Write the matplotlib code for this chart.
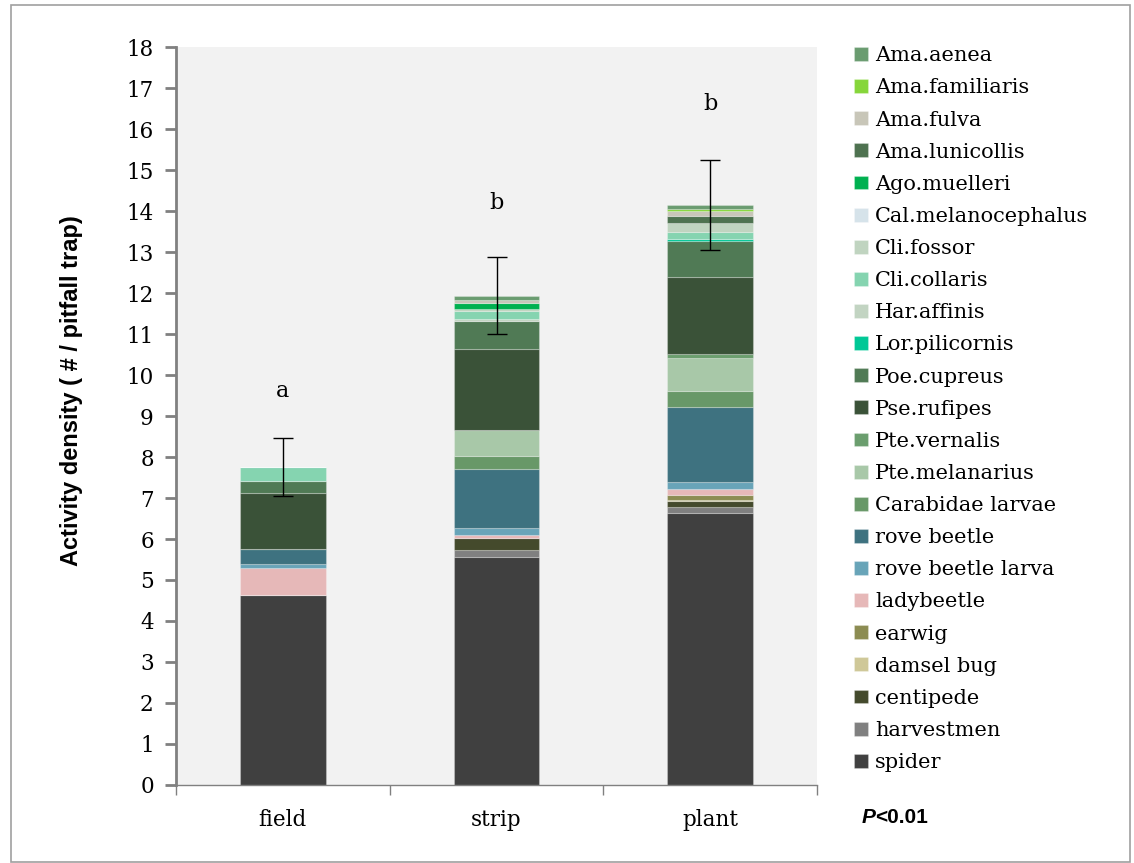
import matplotlib as mpl
import matplotlib.pyplot as plt
from matplotlib.patches import Rectangle

mpl.rcParams['font.family'] = 'DejaVu Serif'

sites = ['field', 'strip', 'plant']

# stacked from the bottom up
taxa = ['spider', 'harvestmen', 'centipede', 'damsel bug', 'earwig', 'ladybeetle',
        'rove beetle larva', 'rove beetle', 'Carabidae larvae', 'Pte.melanarius',
        'Pte.vernalis', 'Pse.rufipes', 'Poe.cupreus', 'Lor.pilicornis', 'Har.affinis',
        'Cli.collaris', 'Cli.fossor', 'Cal.melanocephalus', 'Ago.muelleri',
        'Ama.lunicollis', 'Ama.fulva', 'Ama.familiaris', 'Ama.aenea']

colors = ['#404040', '#808080', '#444a2c', '#cfc898', '#8c8c52', '#e6b8b8',
          '#68a4b8', '#3e7280', '#689868', '#a8c8a8',
          '#6b9e6e', '#3a5238', '#507a55', '#00c896', '#c2d4c2',
          '#85d4b0', '#c0d4c0', '#d6e3ea', '#00b050',
          '#4e7250', '#c8c6b8', '#86d63a', '#6a9c70']

# activity density per taxon: field, strip, plant
values = {
    'spider':             [4.63, 5.57, 6.64],
    'harvestmen':         [0.00, 0.16, 0.15],
    'centipede':          [0.00, 0.29, 0.14],
    'damsel bug':         [0.00, 0.00, 0.02],
    'earwig':             [0.00, 0.00, 0.13],
    'ladybeetle':         [0.67, 0.07, 0.13],
    'rove beetle larva':  [0.09, 0.19, 0.18],
    'rove beetle':        [0.37, 1.42, 1.82],
    'Carabidae larvae':   [0.00, 0.32, 0.41],
    'Pte.melanarius':     [0.00, 0.65, 0.79],
    'Pte.vernalis':       [0.00, 0.00, 0.10],
    'Pse.rufipes':        [1.35, 1.96, 1.87],
    'Poe.cupreus':        [0.31, 0.68, 0.88],
    'Lor.pilicornis':     [0.00, 0.00, 0.06],
    'Har.affinis':        [0.00, 0.05, 0.00],
    'Cli.collaris':       [0.34, 0.21, 0.18],
    'Cli.fossor':         [0.00, 0.03, 0.20],
    'Cal.melanocephalus': [0.00, 0.00, 0.00],
    'Ago.muelleri':       [0.00, 0.15, 0.00],
    'Ama.lunicollis':     [0.00, 0.00, 0.18],
    'Ama.fulva':          [0.00, 0.08, 0.11],
    'Ama.familiaris':     [0.00, 0.00, 0.07],
    'Ama.aenea':          [0.00, 0.10, 0.08],
}

err = [0.70, 0.94, 1.10]
letters = ['a', 'b', 'b']
letter_y = [9.6, 14.2, 16.6]

fig = plt.figure(figsize=(11.34, 8.63), dpi=100)
fig.patches.append(Rectangle((11 / 1134, 1 / 863), 1119 / 1134, 857 / 863,
                             transform=fig.transFigure, fill=False,
                             edgecolor='#a0a0a0', linewidth=1.2))
ax = fig.add_axes([0.1552, 0.0904, 0.5653, 0.8551])
ax.set_facecolor('#f2f2f2')

pos = list(range(len(sites)))
bottom = [0.0] * len(sites)
handles = []
for name, c in zip(taxa, colors):
    v = values[name]
    h = ax.bar(pos, v, 0.40, bottom=bottom, color=c, label=name,
               edgecolor=(1, 1, 1, 0.25), linewidth=0.8)
    handles.append(h)
    bottom = [b + x for b, x in zip(bottom, v)]

ax.errorbar(pos, bottom, yerr=err, fmt='none', ecolor='black',
            elinewidth=1.0, capsize=7, capthick=1.0)

for p, t, y in zip(pos, letters, letter_y):
    ax.text(p, y, t, ha='center', va='center', fontsize=16)

ax.set_xlim(-0.5, 2.5)
ax.set_ylim(0, 18)
ax.set_yticks(range(0, 19))
ax.set_xticks(pos)
ax.set_xticklabels(sites, fontsize=15.5)
ax.set_xticks([-0.5, 0.5, 1.5, 2.5], minor=True)
ax.tick_params(axis='x', which='major', length=0, pad=17)
ax.tick_params(axis='x', which='minor', length=7, width=1, color='#808080')
ax.tick_params(axis='y', length=8, width=2, color='#808080', labelsize=15.5, pad=8)

for s in ['top', 'right']:
    ax.spines[s].set_visible(False)
ax.spines['left'].set_color('#808080')
ax.spines['left'].set_linewidth(2)
ax.spines['bottom'].set_color('#808080')
ax.spines['bottom'].set_linewidth(1)

ax.set_ylabel('Activity density ( # / pitfall trap)', family='Liberation Sans',
              weight='bold', fontsize=17)
ax.yaxis.set_label_coords(-0.145, 0.534)

fig.legend(handles[::-1], taxa[::-1], loc='upper left',
           bbox_to_anchor=(846 / 1134, 1 - 38 / 863), frameon=False,
           fontsize=15, handlelength=0.65, handleheight=0.65,
           handletextpad=0.35, labelspacing=0.63, borderaxespad=0)

fig.text(862 / 1134, 1 - 817 / 863, 'P', family='Liberation Sans',
         weight='bold', style='italic', fontsize=15, va='center')
fig.text(875 / 1134, 1 - 817 / 863, '<0.01', family='Liberation Sans',
         weight='bold', fontsize=15, va='center')

fig.savefig('out.png', dpi=100)
